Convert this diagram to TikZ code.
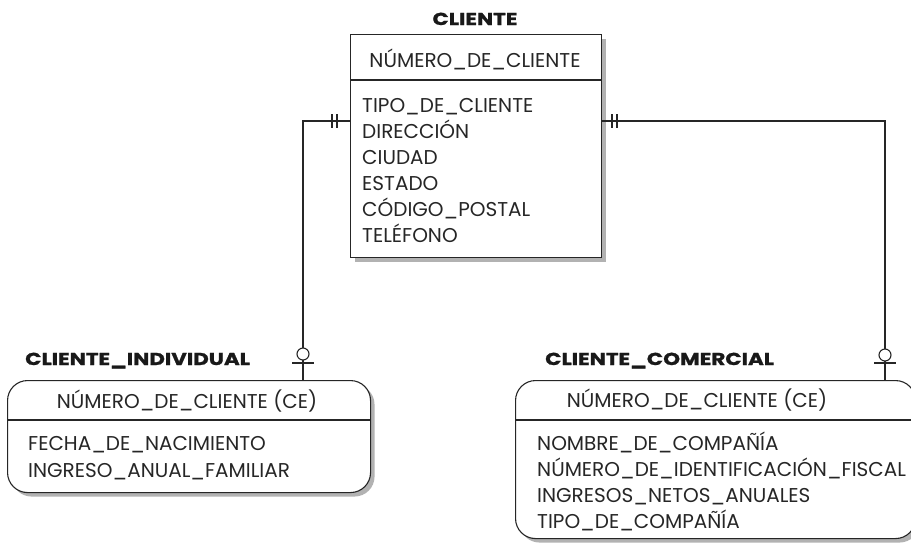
\documentclass[tikz,border=0pt]{standalone}
\usepackage{fontspec}
\setmainfont{Poppins}
\newfontfamily\ttlfont{Poppins}[FakeStretch=1.24, FakeBold=1.2]
\usetikzlibrary{shadows}
\begin{document}
\begin{tikzpicture}[x=1pt,y=-1pt,
  ent/.style={draw=black!85, line width=1.1pt, fill=white, inner sep=0pt, anchor=north west,
    drop shadow={shadow xshift=4pt, shadow yshift=-4pt, fill=black!30, opacity=1}},
  conn/.style={draw=black!85, line width=1.1pt},
  txt/.style={inner sep=0pt, anchor=base west, font=\fontsize{20}{22}\selectfont, text=black!85},
  keytxt/.style={inner sep=0pt, anchor=base, font=\fontsize{20}{22}\selectfont, text=black!85},
  ttl/.style={inner sep=0pt, anchor=base west, font=\ttlfont\fontsize{17.3}{19}\selectfont\bfseries, text=black!90}]
\useasboundingbox (0,0) rectangle (911,542);
\clip (0,0) rectangle (911,542);
% entities
\node[ent, minimum width=251pt, minimum height=223pt] (cli) at (350,34) {};
\node[ent, rounded corners=20pt, minimum width=363pt, minimum height=112pt] (ind) at (7,380) {};
\node[ent, rounded corners=20pt, minimum width=400pt, minimum height=158pt] (com) at (515,380) {};
% dividers
\draw[conn] ([yshift=-46pt]cli.north west) -- ([yshift=-46pt]cli.north east);
\draw[conn] ([yshift=-40pt]ind.north west) -- ([yshift=-40pt]ind.north east);
\draw[conn] ([yshift=-40pt]com.north west) -- ([yshift=-40pt]com.north east);
% titles
\node[ttl, anchor=base] (t1) at (475,25) {CLIENTE};
\node[ttl] (t2) at (25,365) {CLIENTE\_INDIVIDUAL};
\node[ttl] (t3) at (545,365) {CLIENTE\_COMERCIAL};
% keys
\node[keytxt] (k1) at (475,67) {NÚMERO\_DE\_CLIENTE};
\node[keytxt] (k2) at (187,408) {NÚMERO\_DE\_CLIENTE (CE)};
\node[keytxt] (k3) at (697,407) {NÚMERO\_DE\_CLIENTE (CE)};
% attributes
\node[txt] (a1) at (362,112) {TIPO\_DE\_CLIENTE};
\node[txt] (a2) at (362,138) {DIRECCIÓN};
\node[txt] (a3) at (362,164) {CIUDAD};
\node[txt] (a4) at (362,190) {ESTADO};
\node[txt] (a5) at (362,216) {CÓDIGO\_POSTAL};
\node[txt] (a6) at (362,242) {TELÉFONO};
\node[txt] (b1) at (28,450) {FECHA\_DE\_NACIMIENTO};
\node[txt] (b2) at (28,477) {INGRESO\_ANUAL\_FAMILIAR};
\node[txt] (c1) at (537,450) {NOMBRE\_DE\_COMPAÑÍA};
\node[txt] (c2) at (537,476) {NÚMERO\_DE\_IDENTIFICACIÓN\_FISCAL};
\node[txt] (c3) at (537,502) {INGRESOS\_NETOS\_ANUALES};
\node[txt] (c4) at (537,528) {TIPO\_DE\_COMPAÑÍA};
% connectors
\coordinate (lx) at (303,0);
\coordinate (rx) at (885,0);
\draw[conn] ([yshift=-87pt]cli.north west) -| (ind.north -| lx);
\draw[conn] ([yshift=-87pt]cli.north east) -| (com.north -| rx);
% one-and-only-one bars
\draw[conn] (332,114) -- (332,128) (337,114) -- (337,128);
\draw[conn] (612,114) -- (612,128) (617,114) -- (617,128);
% zero-or-one
\draw[conn, fill=white] (303,354) circle (6pt);
\draw[conn] (292,363) -- (314,363);
\draw[conn, fill=white] (885,355) circle (6pt);
\draw[conn] (874,363) -- (896,363);
\end{tikzpicture}
\end{document}
